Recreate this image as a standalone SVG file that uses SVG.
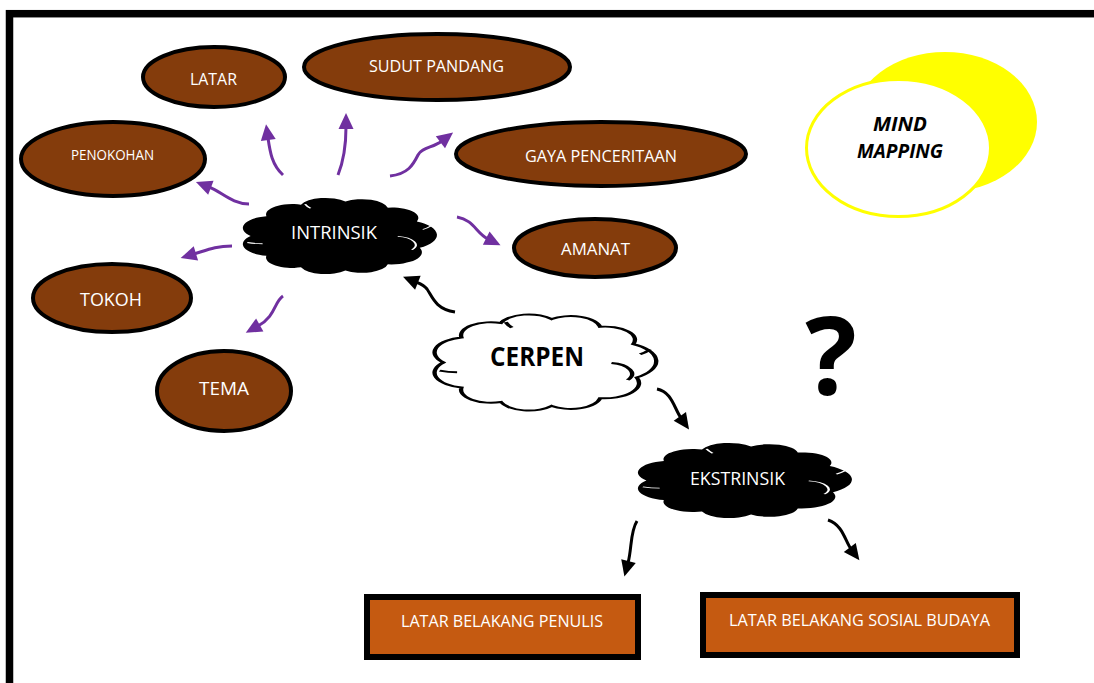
<svg xmlns="http://www.w3.org/2000/svg" width="1094" height="683" viewBox="0 0 1094 683">
<style>
.ell{fill:#843C0C;stroke:#000;stroke-width:4}
.rct{fill:#C55A11;stroke:#000;stroke-width:6}
.wt{fill:#fff;font-family:"Open Sans","Liberation Sans",sans-serif;text-anchor:middle}
.bt{fill:#000;font-family:"Open Sans","Liberation Sans",sans-serif;text-anchor:middle}
.pc{fill:none;stroke:#7030A0;stroke-width:3;marker-end:url(#ahP)}
.kc{fill:none;stroke:#000;stroke-width:3;marker-end:url(#ahK)}
.cl{vector-effect:non-scaling-stroke}
.mk{fill:none;vector-effect:non-scaling-stroke}
</style>
<defs>
<marker id="ahP" markerUnits="userSpaceOnUse" viewBox="0 0 16 15" markerWidth="16" markerHeight="15" refX="2" refY="7.5" orient="auto" overflow="visible"><path d="M0,0 L16,7.5 L0,15 Z" fill="#7030A0"/></marker>
<marker id="ahK" markerUnits="userSpaceOnUse" viewBox="0 0 16 15" markerWidth="16" markerHeight="15" refX="2" refY="7.5" orient="auto" overflow="visible"><path d="M0,0 L16,7.5 L0,15 Z" fill="#000"/></marker>
<path id="cloud" d="M-80,0 A28,28 0 0 1 -65.5,-45.9 A24,24 0 0 1 -33.8,-72.5 A24,24 0 0 1 7,-79.7 A24,24 0 0 1 45.9,-65.5 A24,24 0 0 1 72.5,-33.8 A36,36 0 0 1 75.2,27.4 A28,28 0 0 1 45.9,65.5 A24,24 0 0 1 7,79.7 A24,24 0 0 1 -33.8,72.5 A24,24 0 0 1 -65.5,45.9 A28,28 0 0 1 -80,0 Z"/>
<path id="marks" d="M55,1 A20,20 0 0 1 68,32 M-83,15 Q-76,18 -69,18 M-30,-74 Q-28,-68 -25,-64 M86,-24 Q82,-18 78,-15"/>
</defs>
<rect x="9.5" y="13.7" width="1100" height="700" fill="#fff" stroke="#000" stroke-width="7.5"/>
<g id="connectors">
<path class="pc" d="M283,175 C272,165 270,152 268,138"/>
<path class="pc" d="M338,175 C344,160 346,145 346,127"/>
<path class="pc" d="M249,204 C232,204 222,192 209,187"/>
<path class="pc" d="M390,176 C408,174 413,165 418,155 C422,147 433,148 442,141"/>
<path class="pc" d="M457,217 C474,220 476,233 488,239"/>
<path class="pc" d="M232,246 C215,246 207,250 194,254"/>
<path class="pc" d="M283,296 C274,302 276,316 258,326"/>
<path class="kc" d="M455,312 C435,309 432,296 427,289 C424,285 421,284 416,282"/>
<path class="kc" d="M657,389 C672,392 674,408 681,418"/>
<path class="kc" d="M637,521 C630,532 632,548 628,563"/>
<path class="kc" d="M828,520 C843,525 845,541 851,549"/>
</g>
<g id="latar"><ellipse class="ell" cx="214" cy="77" rx="71" ry="30"/><text class="wt" x="213.5" y="85" font-size="16" textLength="47" lengthAdjust="spacingAndGlyphs">LATAR</text></g>
<g id="sudut-pandang"><ellipse class="ell" cx="437" cy="67" rx="133" ry="33"/><text class="wt" x="436.5" y="72" font-size="16" textLength="135" lengthAdjust="spacingAndGlyphs">SUDUT PANDANG</text></g>
<g id="penokohan"><ellipse class="ell" cx="113" cy="159" rx="92" ry="37"/><text class="wt" x="112.5" y="160" font-size="14" textLength="83" lengthAdjust="spacingAndGlyphs">PENOKOHAN</text></g>
<g id="gaya-penceritaan"><ellipse class="ell" cx="601" cy="154" rx="145" ry="32"/><text class="wt" x="601" y="162" font-size="16" textLength="152" lengthAdjust="spacingAndGlyphs">GAYA PENCERITAAN</text></g>
<g id="amanat"><ellipse class="ell" cx="595" cy="248" rx="81" ry="29"/><text class="wt" x="595.5" y="255" font-size="16" textLength="69" lengthAdjust="spacingAndGlyphs">AMANAT</text></g>
<g id="tokoh"><ellipse class="ell" cx="112" cy="298" rx="79" ry="34"/><text class="wt" x="111" y="306" font-size="18" textLength="62" lengthAdjust="spacingAndGlyphs">TOKOH</text></g>
<g id="tema"><ellipse class="ell" cx="224" cy="391" rx="67" ry="40"/><text class="wt" x="224" y="395" font-size="18.5" textLength="50" lengthAdjust="spacingAndGlyphs">TEMA</text></g>
<g id="intrinsik">
<use href="#cloud" transform="translate(337.8,236) scale(1.09,0.432)" fill="#000"/>
<use href="#marks" class="mk" transform="translate(337.8,236) scale(1.09,0.432)" stroke="#fff" stroke-width="2"/>
<text class="wt" x="334" y="238.5" font-size="18" textLength="86" lengthAdjust="spacingAndGlyphs">INTRINSIK</text>
</g>
<g id="cerpen">
<use href="#cloud" class="cl" transform="translate(543,362.5) scale(1.245,0.545)" fill="#fff" stroke="#000" stroke-width="3.5"/>
<use href="#marks" class="mk" transform="translate(543,362.5) scale(1.245,0.545)" stroke="#000" stroke-width="3.5"/>
<text class="bt" x="537" y="366" font-size="26" font-weight="bold" textLength="94" lengthAdjust="spacingAndGlyphs">CERPEN</text>
</g>
<g id="ekstrinsik">
<use href="#cloud" transform="translate(742.6,480.5) scale(1.202,0.426)" fill="#000"/>
<use href="#marks" class="mk" transform="translate(742.6,480.5) scale(1.202,0.426)" stroke="#fff" stroke-width="2"/>
<text class="wt" x="737.5" y="485" font-size="18" textLength="95" lengthAdjust="spacingAndGlyphs">EKSTRINSIK</text>
</g>
<g id="latar-belakang-penulis"><rect class="rct" x="367" y="597" width="271" height="60"/><text class="wt" x="502" y="627" font-size="16" textLength="202" lengthAdjust="spacingAndGlyphs">LATAR BELAKANG PENULIS</text></g>
<g id="latar-belakang-sosial-budaya"><rect class="rct" x="703" y="595" width="314" height="60"/><text class="wt" x="859.5" y="626" font-size="16" textLength="261" lengthAdjust="spacingAndGlyphs">LATAR BELAKANG SOSIAL BUDAYA</text></g>
<g id="mind-mapping">
<ellipse cx="945" cy="122" rx="92" ry="70" fill="#FFFF00"/>
<ellipse cx="898.5" cy="148" rx="92" ry="68.5" fill="#fff" stroke="#FFFF00" stroke-width="3"/>
<text class="bt" x="900" y="131" font-size="19" font-weight="bold" font-style="italic" textLength="54" lengthAdjust="spacingAndGlyphs">MIND</text>
<text class="bt" x="900" y="158" font-size="19" font-weight="bold" font-style="italic" textLength="86" lengthAdjust="spacingAndGlyphs">MAPPING</text>
</g>
<g id="question"><text class="bt" x="831" y="395" font-size="108" font-weight="bold">?</text></g>
</svg>
